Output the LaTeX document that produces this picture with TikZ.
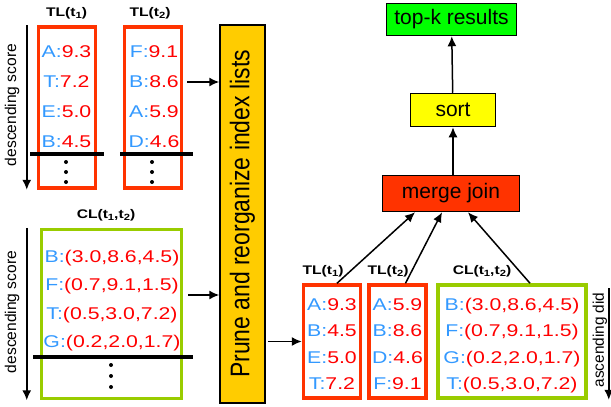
\documentclass[tikz,border=0pt]{standalone}
\usepackage{fontspec}
\setmainfont{Liberation Sans}
\newfontfamily\widefont{Liberation Sans}[FakeStretch=1.25]
\newfontfamily\prunefont{Liberation Sans}[FakeStretch=0.85]
\usetikzlibrary{arrows.meta}

\definecolor{tlred}{HTML}{FF3300}
\definecolor{clgreen}{HTML}{99CC00}
\definecolor{keyblue}{HTML}{3399FF}
\definecolor{valred}{HTML}{FF0000}
\definecolor{pruneorange}{HTML}{FFCC00}
\definecolor{sortyellow}{HTML}{FFFF00}
\definecolor{topgreen}{HTML}{00FF00}

\tikzset{
  tlbox/.style={draw=tlred, line width=3.5pt, minimum width=57pt, inner sep=0pt},
  clbox/.style={draw=clgreen, line width=3.5pt, inner sep=0pt},
  entry/.style={anchor=base, inner sep=0pt, font=\widefont\fontsize{17}{20}\selectfont},
  listlabel/.style={inner sep=0pt, font=\widefont\fontsize{12.5}{14}\selectfont\bfseries},
  opbox/.style={draw=black, line width=1.5pt, inner sep=0pt, font=\fontsize{21}{24}\selectfont},
  sidetext/.style={rotate=90, inner sep=0pt, font=\fontsize{15.6}{18}\selectfont},
  cutline/.style={line width=3.5pt},
  dot/.style={fill=black},
}

\newcommand{\kv}[2]{\textcolor{keyblue}{#1:}\textcolor{valred}{#2}}
\newcommand{\lsub}[1]{\raisebox{-0.35ex}{\fontsize{9}{10}\selectfont#1}}

\begin{document}
\begin{tikzpicture}[x=1pt,y=-1pt,>={Latex[length=10pt,width=9pt]},line width=1.5pt]
\useasboundingbox (0,0) rectangle (611,407);

% left lists
\node[tlbox, minimum height=161pt] (tla) at (67,107.5) {};
\node[tlbox, minimum height=161pt] (tlb) at (153,107.5) {};
\node[clbox, minimum width=140pt, minimum height=169pt] (cla) at (111.5,314) {};
\node[listlabel] (tlalab) at (66.5,13) {TL(t\lsub{1})};
\node[listlabel] (tlblab) at (150,13) {TL(t\lsub{2})};
\node[listlabel] (clalab) at (106,215) {CL(t\lsub{1},t\lsub{2})};

\foreach \k/\v [count=\i] in {A/9.3,T/7.2,E/5.0,B/4.5}
  \node[entry] (ea\i) at (66.5,{57+30*(\i-1)}) {\kv{\k}{\v}};
\foreach \k/\v [count=\i] in {F/9.1,B/8.6,A/5.9,D/4.6}
  \node[entry] (eb\i) at (154,{57+30*(\i-1)}) {\kv{\k}{\v}};
\foreach \k/\v [count=\i] in {B/{(3.0,8.6,4.5)},F/{(0.7,9.1,1.5)},T/{(0.5,3.0,7.2)},G/{(0.2,2.0,1.7)}}
  \node[entry] (ec\i) at (112,{262+28.5*(\i-1)}) {\kv{\k}{\v}};

% cut lines and dots
\draw[cutline] (30,154) -- (104,154);
\draw[cutline] (120,154) -- (193,154);
\draw[cutline] (33,357) -- (193,357);
\foreach \y in {162,172,182} {
  \fill[dot] (66,\y) circle (2);
  \fill[dot] (152,\y) circle (2);
}
\foreach \y in {365,376,387}
  \fill[dot] (111,\y) circle (2);

% descending score
\draw[->] ([xshift=-10pt]tla.north west) -- ([xshift=-10pt]tla.south west);
\draw[->] ([xshift=-13pt]cla.north west) -- ([xshift=-13pt]cla.south west);
\node[sidetext] (dsa) at (12,105) {descending score};
\node[sidetext] (dsc) at (12,312) {descending score};

% prune step
\node[opbox, fill=pruneorange, minimum width=378pt, minimum height=45pt, rotate=90,
  font=\prunefont\fontsize{27}{30}\selectfont] (prune) at (242.5,214) {Prune and reorganize index lists};
\coordinate (ina) at (187,82);
\coordinate (inc) at (188,295);
\draw[->] (ina) -- (ina -| prune.north);
\draw[->] (inc) -- (inc -| prune.north);

% right lists
\node[tlbox, minimum height=113pt] (tlc) at (332,341.5) {};
\node[tlbox, minimum height=113pt] (tld) at (397.5,341.5) {};
\node[clbox, minimum width=148pt, minimum height=113pt] (clb) at (512,341.5) {};
\node[listlabel] (tlclab) at (323,271) {TL(t\lsub{1})};
\node[listlabel] (tldlab) at (388,271) {TL(t\lsub{2})};
\node[listlabel] (clblab) at (482,271) {CL(t\lsub{1},t\lsub{2})};

\foreach \k/\v [count=\i] in {A/9.3,B/4.5,E/5.0,T/7.2}
  \node[entry] (ed\i) at (332,{310+26.5*(\i-1)}) {\kv{\k}{\v}};
\foreach \k/\v [count=\i] in {A/5.9,B/8.6,D/4.6,F/9.1}
  \node[entry] (ee\i) at (397.5,{310+26.5*(\i-1)}) {\kv{\k}{\v}};
\foreach \k/\v [count=\i] in {B/{(3.0,8.6,4.5)},F/{(0.7,9.1,1.5)},G/{(0.2,2.0,1.7)},T/{(0.5,3.0,7.2)}}
  \node[entry] (ef\i) at (512,{310+26.5*(\i-1)}) {\kv{\k}{\v}};

\draw[->] ([xshift=2pt]prune.south |- tlc.west) -- (tlc.west);

% ascending did
\draw[->] ([xshift=21pt,yshift=-5pt]clb.north east) -- ([xshift=21pt]clb.south east);
\node[sidetext, font=\fontsize{15.4}{18}\selectfont] (asd) at (600,340) {ascending did};

% operators
\node[opbox, fill=tlred, minimum width=137pt, minimum height=36pt] (merge) at (451,193.5) {merge join};
\node[opbox, fill=sortyellow, minimum width=85pt, minimum height=33pt] (sort) at (453,110) {sort};
\node[opbox, fill=topgreen, minimum width=130pt, minimum height=32pt] (topk) at (451.5,19.5) {top-k results};

\draw[->] (sort) -- (topk);
\draw[->] (merge.north -| sort) -- (sort);
\draw[->] ([xshift=5pt]tlc.north) -- ([xshift=-36pt]merge.south);
\draw[->] ([xshift=8pt]tld.north) -- ([xshift=-9pt]merge.south);
\draw[->] ([xshift=18pt]clb.north) -- ([xshift=17pt]merge.south);
\end{tikzpicture}
\end{document}
